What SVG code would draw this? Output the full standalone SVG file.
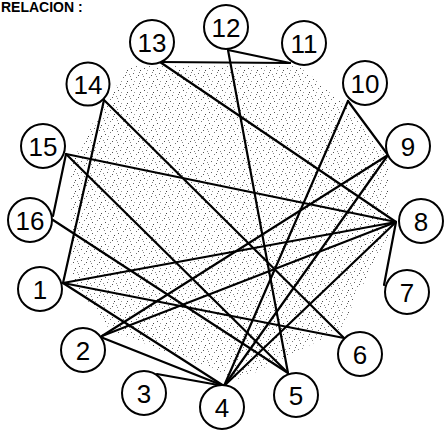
<svg xmlns="http://www.w3.org/2000/svg" width="444" height="431" viewBox="0 0 444 431">
<style>
.edge{stroke:#000;stroke-width:2.2;stroke-linecap:round;fill:none}
.node circle{fill:#fff;stroke:#000;stroke-width:2}
.node text{font-family:"Liberation Sans",Arial,sans-serif;font-size:26px;text-anchor:middle;fill:#000}
.title{font-family:"Liberation Sans",Arial,sans-serif;font-size:14px;font-weight:bold;fill:#000}
</style>
<defs>
<pattern id="stip" width="13" height="11" patternUnits="userSpaceOnUse">
<rect x="1" y="2" width="1" height="1" fill="#555"/>
<rect x="6" y="0" width="1" height="1" fill="#777"/>
<rect x="10" y="4" width="1" height="1" fill="#444"/>
<rect x="3" y="7" width="1" height="1" fill="#666"/>
<rect x="8" y="9" width="1" height="1" fill="#555"/>
<rect x="12" y="8" width="1" height="1" fill="#888"/>
<rect x="4" y="4" width="1" height="1" fill="#999"/>
<rect x="9" y="6" width="1" height="1" fill="#777"/>
<rect x="0" y="10" width="1" height="1" fill="#888"/>
</pattern>
</defs>
<rect width="444" height="431" fill="#fff"/>
<polygon points="130,66 300,66 350,110 388,160 390,232 340,330 240,380 110,330 72,280 70,165 100,110" fill="url(#stip)"/>
<text class="title" x="1" y="12">RELACION :</text>
<g id="connectors">
<line class="edge" x1="160" y1="62" x2="290" y2="63"/>
<line class="edge" x1="228" y1="50" x2="290" y2="63"/>
<line class="edge" x1="160" y1="62" x2="396" y2="222"/>
<line class="edge" x1="228" y1="50" x2="288" y2="373"/>
<line class="edge" x1="104" y1="100" x2="63" y2="283"/>
<line class="edge" x1="104" y1="100" x2="344" y2="338"/>
<line class="edge" x1="66" y1="154" x2="396" y2="222"/>
<line class="edge" x1="66" y1="154" x2="53" y2="216"/>
<line class="edge" x1="66" y1="154" x2="288" y2="373"/>
<line class="edge" x1="53" y1="220" x2="288" y2="373"/>
<line class="edge" x1="63" y1="283" x2="396" y2="222"/>
<line class="edge" x1="63" y1="283" x2="344" y2="338"/>
<line class="edge" x1="63" y1="283" x2="224" y2="386"/>
<line class="edge" x1="102" y1="336" x2="396" y2="222"/>
<line class="edge" x1="102" y1="336" x2="388" y2="155"/>
<line class="edge" x1="103" y1="338" x2="224" y2="386"/>
<line class="edge" x1="157" y1="374" x2="224" y2="386"/>
<line class="edge" x1="224" y1="386" x2="348" y2="101"/>
<line class="edge" x1="224" y1="386" x2="388" y2="155"/>
<line class="edge" x1="224" y1="386" x2="396" y2="222"/>
<line class="edge" x1="348" y1="101" x2="388" y2="155"/>
<line class="edge" x1="396" y1="222" x2="384" y2="285"/>
</g>
<g id="n1" class="node"><circle cx="40" cy="289" r="22"/><text x="40" y="298.5">1</text></g>
<g id="n2" class="node"><circle cx="83" cy="350" r="22"/><text x="83" y="359.5">2</text></g>
<g id="n3" class="node"><circle cx="144" cy="393" r="22"/><text x="144" y="402.5">3</text></g>
<g id="n4" class="node"><circle cx="222" cy="407" r="22"/><text x="222" y="416.5">4</text></g>
<g id="n5" class="node"><circle cx="296" cy="395" r="22"/><text x="296" y="404.5">5</text></g>
<g id="n6" class="node"><circle cx="360" cy="354" r="22"/><text x="360" y="363.5">6</text></g>
<g id="n7" class="node"><circle cx="407" cy="292" r="22"/><text x="407" y="301.5">7</text></g>
<g id="n8" class="node"><circle cx="421" cy="221" r="22"/><text x="421" y="230.5">8</text></g>
<g id="n9" class="node"><circle cx="408" cy="146" r="22"/><text x="408" y="155.5">9</text></g>
<g id="n10" class="node"><circle cx="365" cy="83" r="22"/><text x="365" y="92.5">10</text></g>
<g id="n11" class="node"><circle cx="304" cy="43" r="22"/><text x="304" y="52.5">11</text></g>
<g id="n12" class="node"><circle cx="226" cy="27" r="22"/><text x="226" y="36.5">12</text></g>
<g id="n13" class="node"><circle cx="152" cy="42" r="22"/><text x="152" y="51.5">13</text></g>
<g id="n14" class="node"><circle cx="88" cy="84" r="21.5"/><text x="88" y="93.5">14</text></g>
<g id="n15" class="node"><circle cx="43" cy="146" r="22"/><text x="43" y="155.5">15</text></g>
<g id="n16" class="node"><circle cx="30" cy="220" r="22"/><text x="30" y="229.5">16</text></g>
</svg>
